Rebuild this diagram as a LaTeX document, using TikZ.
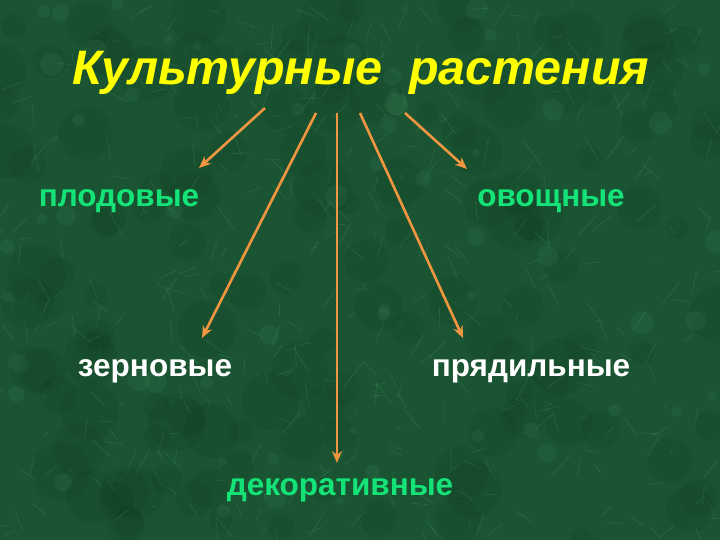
\documentclass[tikz,border=0pt]{standalone}
\usepackage{fontspec}
\setmainfont{Liberation Sans}
\usetikzlibrary{arrows.meta}
\definecolor{bgdark}{RGB}{26,84,50}
\definecolor{bglight}{RGB}{90,170,120}
\definecolor{bgdeep}{RGB}{10,50,28}
\definecolor{labgreen}{RGB}{20,228,120}
\definecolor{titleyellow}{RGB}{255,255,0}
\definecolor{arroworange}{RGB}{240,150,64}
\tikzset{
  lab/.style={font=\fontsize{31.5}{33}\selectfont\bfseries, inner sep=0pt, anchor=base},
  conn/.style={draw=arroworange, line width=2.6pt, -{Stealth[length=12pt,width=10pt]}},
}
\begin{document}
\begin{tikzpicture}[x=1pt,y=-1pt]
\fill[bgdark] (0,0) rectangle (720,540);
\useasboundingbox (0,0) rectangle (720,540);
% marble texture
\pgfmathsetseed{7}
\foreach \i in {1,...,140}{
  \pgfmathsetmacro{\xa}{rnd*720}
  \pgfmathsetmacro{\ya}{rnd*540}
  \pgfmathsetmacro{\r}{10+rnd*20}
  \fill[bgdeep, opacity=0.12] (\xa,\ya) circle (\r);
}
\foreach \i in {1,...,420}{
  \pgfmathsetmacro{\xa}{rnd*720}
  \pgfmathsetmacro{\ya}{rnd*540}
  \pgfmathsetmacro{\dx}{(rnd-0.5)*40}
  \pgfmathsetmacro{\dy}{(rnd-0.5)*50}
  \draw[bglight, opacity=0.22, line width=0.7pt] (\xa,\ya) -- ++(\dx,\dy);
}
\foreach \i in {1,...,60}{
  \pgfmathsetmacro{\xa}{rnd*720}
  \pgfmathsetmacro{\ya}{rnd*540}
  \pgfmathsetmacro{\r}{4+rnd*8}
  \fill[bglight, opacity=0.1] (\xa,\ya) circle (\r);
}
% title
\node[font=\fontsize{48.4}{52}\selectfont\bfseries\itshape, text=titleyellow, inner sep=0pt, anchor=base] (title) at (361,85) {Культурные\ \ растения};
% labels
\node[lab, text=labgreen] (plod) at (119,207) {плодовые};
\node[lab, text=labgreen] (ovo) at (551,207) {овощные};
\node[lab, text=white] (zern) at (155,376) {зерновые};
\node[lab, text=white] (pryad) at (531,376) {прядильные};
\node[lab, text=labgreen] (dekor) at (340,495) {декоративные};
% arrow coordinates
\coordinate (s1) at (265,108); \coordinate (e1) at (199,168);
\coordinate (s2) at (316,113); \coordinate (e2) at (202,338);
\coordinate (s3) at (337,113); \coordinate (e3) at (337,463);
\coordinate (s4) at (360,113); \coordinate (e4) at (463,338);
\coordinate (s5) at (405,113); \coordinate (e5) at (467,169);
\draw[conn] (s1) -- (e1);
\draw[conn] (s2) -- (e2);
\draw[conn] (s3) -- (e3);
\draw[conn] (s4) -- (e4);
\draw[conn] (s5) -- (e5);
\end{tikzpicture}
\end{document}
